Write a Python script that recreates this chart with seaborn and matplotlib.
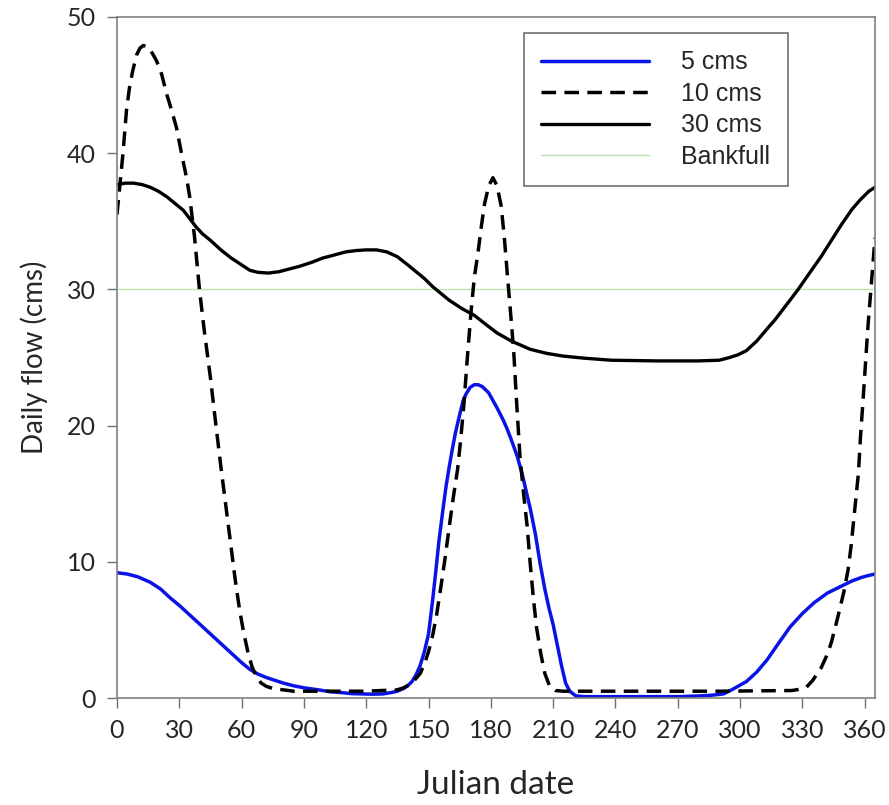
import matplotlib
matplotlib.use("Agg")
import matplotlib.pyplot as plt
import seaborn as sns

# Daily flow values
day_5 = [0, 5, 10, 16, 21, 26, 30, 35, 40, 45, 50, 55, 60, 64, 68, 72, 76, 80, 85, 90, 97, 103, 108,
         113, 118, 123, 128, 132, 135, 138, 140, 142, 144, 146, 148, 150, 152, 153.5, 155, 157,
         158.5, 160, 161.5, 163, 165, 166.6, 168, 170, 172, 174, 176, 179, 183, 186, 188, 190,
         192.6, 195, 197, 199, 201.5, 203.7, 206, 208, 210, 212, 214, 216, 218, 221, 225, 250,
         270, 280, 286, 292, 296, 300, 303, 308, 313, 318, 324, 330, 335.7, 342, 348.6, 354,
         358.4, 362, 365]
flow_5 = [9.2, 9.1, 8.9, 8.5, 8.0, 7.3, 6.8, 6.1, 5.4, 4.7, 4.0, 3.3, 2.6, 2.1, 1.75, 1.5, 1.3, 1.1, 0.9, 0.75, 0.6, 0.45, 0.4,
          0.32, 0.3, 0.28, 0.3, 0.4, 0.5, 0.7, 0.9, 1.2, 1.7, 2.4, 3.4, 4.7, 7.2, 9.3, 11.5, 13.9,
          15.6, 17.0, 18.3, 19.5, 20.8, 21.8, 22.3, 22.8, 23.0, 23.0, 22.85, 22.4, 21.3, 20.4, 19.7, 18.9,
          17.8, 16.5, 15.2, 13.9, 12.0, 9.9, 8.0, 6.6, 5.4, 3.9, 2.4, 1.1, 0.5, 0.15, 0.1, 0.1,
          0.1, 0.15, 0.2, 0.3, 0.6, 0.95, 1.2, 1.9, 2.8, 3.9, 5.2, 6.2, 7.0, 7.7, 8.2, 8.6,
          8.85, 9.0, 9.1]

day_10 = [0, 1.5, 3, 4.6, 6, 7.5, 9.4, 11, 12.6, 14.5, 16, 19, 21.5, 23.8, 26, 28.6, 31.7, 33.5, 35,
          37.3, 39.7, 42, 45, 47.5, 50, 52.5, 55, 57, 59, 61, 63, 65, 67, 69.4, 72, 75, 80, 85,
          100, 120, 135, 138, 141, 143.5, 146, 148, 150, 152, 154, 156, 158, 160, 162, 164, 165.5,
          167, 168.7, 170.5, 172, 174, 175.5, 177, 179, 181, 183, 185, 186.5, 188, 189.5, 191,
          192.5, 194, 195.7, 197.5, 199, 200.5, 202, 204, 206, 208.5, 211, 215, 250, 290, 325,
          329, 332, 335, 339, 342, 344, 347, 350, 352, 353.5, 355, 357, 358, 359.2, 361.5, 363, 365]
flow_10 = [35.5, 37.8, 40.2, 43.2, 44.8, 46.0, 47.2, 47.7, 47.9, 47.85, 47.6, 46.8, 45.8, 44.4, 43.3, 41.9, 39.5, 38.2, 36.8,
           33.9, 30.0, 27.0, 23.5, 20.2, 17.0, 14.0, 11.0, 8.6, 6.5, 4.8, 3.4, 2.3, 1.6, 1.1, 0.85, 0.7, 0.6, 0.5,
           0.5, 0.5, 0.6, 0.75, 1.0, 1.35, 1.8, 2.5, 3.4, 4.6, 6.2, 8.2, 10.3, 12.6, 14.8, 16.8, 19.0,
           21.5, 25.0, 28.4, 30.8, 32.9, 34.7, 36.3, 37.6, 38.2, 37.6, 36.1, 33.8, 31.0, 28.3, 25.5,
           21.5, 17.8, 15.1, 12.6, 9.8, 7.3, 5.2, 3.3, 1.8, 0.8, 0.55, 0.5, 0.5, 0.5, 0.55,
           0.65, 0.8, 1.3, 2.2, 3.2, 4.1, 5.9, 7.8, 9.4, 11.2, 13.5, 16.5, 19.2, 21.8, 27.1, 30.0, 33.8]

day_30 = [0, 4, 8, 12, 16, 20, 24, 28, 32, 35, 38, 41, 45, 50, 55, 60, 64, 68, 73, 78, 83, 88, 94,
          99, 104, 110, 115, 120, 125, 130, 135, 140, 144, 148, 152, 156, 160, 166, 172, 177, 183,
          190, 199, 207, 215, 225, 238, 260, 280, 290, 295, 299, 303, 308, 313, 317, 320, 324,
          328, 333, 339, 344, 349, 354, 358, 362, 365]
flow_30 = [37.7, 37.8, 37.8, 37.7, 37.5, 37.2, 36.8, 36.3, 35.8, 35.2, 34.6, 34.1, 33.6, 32.9, 32.3, 31.8, 31.4, 31.25, 31.2, 31.3, 31.5, 31.7, 32.0,
           32.3, 32.5, 32.75, 32.85, 32.9, 32.9, 32.75, 32.4, 31.8, 31.3, 30.8, 30.2, 29.7, 29.2, 28.6, 28.1, 27.5, 26.8,
           26.2, 25.6, 25.3, 25.1, 24.95, 24.8, 24.75, 24.75, 24.8, 25.0, 25.2, 25.5, 26.2, 27.1, 27.8, 28.4, 29.2,
           30.0, 31.1, 32.4, 33.6, 34.8, 35.9, 36.6, 37.2, 37.5]

bankfull = 30

x_ticks = list(range(0, 361, 30))
y_ticks = list(range(0, 51, 10))

sns.set_style("white")
plt.rcParams['font.family'] = ['Lato', 'DejaVu Sans']

fig = plt.figure(figsize=(8.89, 8.05), dpi=100)
ax = fig.add_axes([0.1316, 0.1329, 0.8527, 0.846])

sns.lineplot(x=day_5, y=flow_5, ax=ax, color='#0a14e6', linewidth=2.5, label='5 cms')
sns.lineplot(x=day_10, y=flow_10, ax=ax, color='black', linewidth=2.5,
             linestyle=(0, (4.2, 2.4)), label='10 cms')
sns.lineplot(x=day_30, y=flow_30, ax=ax, color='black', linewidth=2.4, label='30 cms')
ax.axhline(bankfull, color='#bfe3ad', linewidth=1.0, label='Bankfull', zorder=1)

ax.set_xlim(0, 365)
ax.set_ylim(0, 50)
ax.set_xticks(x_ticks)
ax.set_yticks(y_ticks)
ax.tick_params(axis='both', direction='out', length=7, width=1, color='#707070',
               labelsize=18, bottom=True, left=True, pad=8)

for side in ['left', 'right', 'top', 'bottom']:
    ax.spines[side].set_color('#808080')
    ax.spines[side].set_linewidth(1.2)

ax.set_xlabel('Julian date', fontsize=24, labelpad=20)
ax.set_ylabel('Daily flow (cms)', fontsize=20, labelpad=14)

leg = ax.legend(loc='upper right', bbox_to_anchor=(0.885, 0.9765), borderaxespad=0,
                fancybox=False, framealpha=1, edgecolor='#707070', handlelength=4.3,
                handletextpad=1.3, labelspacing=0.3, borderpad=0.7,
                prop={'family': 'Liberation Sans', 'size': 18})
leg.get_frame().set_linewidth(1.2)

fig.savefig('out.png', dpi=100)
